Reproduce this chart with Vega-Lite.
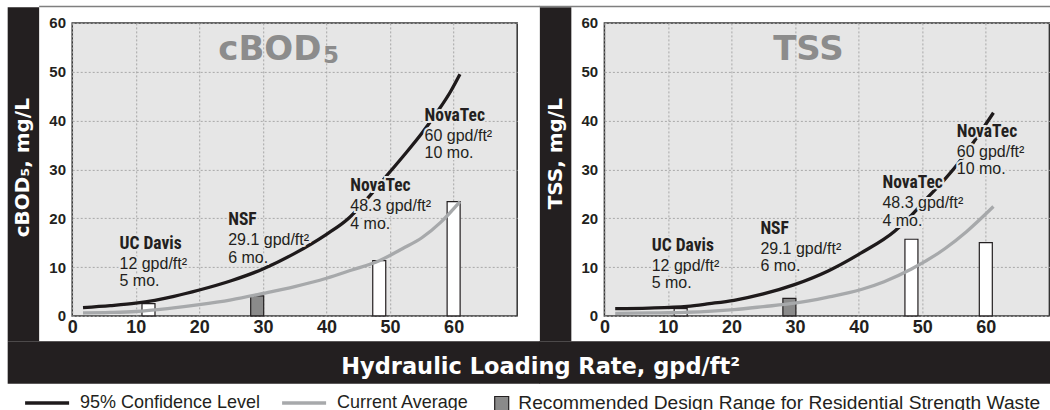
{
  "$schema": "https://vega.github.io/schema/vega-lite/v6.json",
  "background": "white",
  "padding": {"left": 6.2, "top": 4.9, "right": 0, "bottom": 0},
  "spacing": 87.2,
  "bounds": "flush",
  "datasets": {
    "curves": [
      {"panel": "cBOD", "series": "95% Confidence Level", "rate": 1.7, "value": 1.7},
      {"panel": "cBOD", "series": "95% Confidence Level", "rate": 6, "value": 2.1},
      {"panel": "cBOD", "series": "95% Confidence Level", "rate": 10, "value": 2.6},
      {"panel": "cBOD", "series": "95% Confidence Level", "rate": 13, "value": 3.2},
      {"panel": "cBOD", "series": "95% Confidence Level", "rate": 16, "value": 4.0},
      {"panel": "cBOD", "series": "95% Confidence Level", "rate": 20, "value": 5.3},
      {"panel": "cBOD", "series": "95% Confidence Level", "rate": 25, "value": 7.2},
      {"panel": "cBOD", "series": "95% Confidence Level", "rate": 30, "value": 9.6},
      {"panel": "cBOD", "series": "95% Confidence Level", "rate": 35, "value": 12.8},
      {"panel": "cBOD", "series": "95% Confidence Level", "rate": 40, "value": 16.7},
      {"panel": "cBOD", "series": "95% Confidence Level", "rate": 43.4, "value": 19.9},
      {"panel": "cBOD", "series": "95% Confidence Level", "rate": 46, "value": 23.4},
      {"panel": "cBOD", "series": "95% Confidence Level", "rate": 49.2, "value": 28.3},
      {"panel": "cBOD", "series": "95% Confidence Level", "rate": 52, "value": 32.6},
      {"panel": "cBOD", "series": "95% Confidence Level", "rate": 55, "value": 37.4},
      {"panel": "cBOD", "series": "95% Confidence Level", "rate": 57.5, "value": 41.9},
      {"panel": "cBOD", "series": "95% Confidence Level", "rate": 59.5, "value": 45.9},
      {"panel": "cBOD", "series": "95% Confidence Level", "rate": 61, "value": 49.5},
      {"panel": "cBOD", "series": "Current Average", "rate": 1.7, "value": 0.6},
      {"panel": "cBOD", "series": "Current Average", "rate": 6, "value": 0.7},
      {"panel": "cBOD", "series": "Current Average", "rate": 10, "value": 0.9},
      {"panel": "cBOD", "series": "Current Average", "rate": 15, "value": 1.5},
      {"panel": "cBOD", "series": "Current Average", "rate": 20, "value": 2.3},
      {"panel": "cBOD", "series": "Current Average", "rate": 25, "value": 3.3},
      {"panel": "cBOD", "series": "Current Average", "rate": 30, "value": 4.6},
      {"panel": "cBOD", "series": "Current Average", "rate": 35, "value": 6.0},
      {"panel": "cBOD", "series": "Current Average", "rate": 40, "value": 7.7},
      {"panel": "cBOD", "series": "Current Average", "rate": 44, "value": 9.4},
      {"panel": "cBOD", "series": "Current Average", "rate": 48.3, "value": 11.3},
      {"panel": "cBOD", "series": "Current Average", "rate": 52, "value": 13.8},
      {"panel": "cBOD", "series": "Current Average", "rate": 55, "value": 16.0},
      {"panel": "cBOD", "series": "Current Average", "rate": 58, "value": 19.2},
      {"panel": "cBOD", "series": "Current Average", "rate": 61, "value": 23.4},
      {"panel": "TSS", "series": "95% Confidence Level", "rate": 1.7, "value": 1.5},
      {"panel": "TSS", "series": "95% Confidence Level", "rate": 7, "value": 1.6},
      {"panel": "TSS", "series": "95% Confidence Level", "rate": 13, "value": 1.95},
      {"panel": "TSS", "series": "95% Confidence Level", "rate": 16.5, "value": 2.5},
      {"panel": "TSS", "series": "95% Confidence Level", "rate": 20.4, "value": 3.2},
      {"panel": "TSS", "series": "95% Confidence Level", "rate": 25, "value": 4.5},
      {"panel": "TSS", "series": "95% Confidence Level", "rate": 29.9, "value": 6.4},
      {"panel": "TSS", "series": "95% Confidence Level", "rate": 35.2, "value": 9.2},
      {"panel": "TSS", "series": "95% Confidence Level", "rate": 40.4, "value": 12.9},
      {"panel": "TSS", "series": "95% Confidence Level", "rate": 45.7, "value": 17.4},
      {"panel": "TSS", "series": "95% Confidence Level", "rate": 48, "value": 20.2},
      {"panel": "TSS", "series": "95% Confidence Level", "rate": 50.9, "value": 24.3},
      {"panel": "TSS", "series": "95% Confidence Level", "rate": 53.5, "value": 27.9},
      {"panel": "TSS", "series": "95% Confidence Level", "rate": 55.7, "value": 31.3},
      {"panel": "TSS", "series": "95% Confidence Level", "rate": 58.3, "value": 36.0},
      {"panel": "TSS", "series": "95% Confidence Level", "rate": 61.2, "value": 41.6},
      {"panel": "TSS", "series": "Current Average", "rate": 1.7, "value": 0.5},
      {"panel": "TSS", "series": "Current Average", "rate": 7, "value": 0.6},
      {"panel": "TSS", "series": "Current Average", "rate": 13, "value": 0.75},
      {"panel": "TSS", "series": "Current Average", "rate": 20.4, "value": 1.3},
      {"panel": "TSS", "series": "Current Average", "rate": 25, "value": 1.9},
      {"panel": "TSS", "series": "Current Average", "rate": 29.9, "value": 2.6},
      {"panel": "TSS", "series": "Current Average", "rate": 35, "value": 3.8},
      {"panel": "TSS", "series": "Current Average", "rate": 40.4, "value": 5.4},
      {"panel": "TSS", "series": "Current Average", "rate": 44, "value": 7.0},
      {"panel": "TSS", "series": "Current Average", "rate": 48.3, "value": 9.6},
      {"panel": "TSS", "series": "Current Average", "rate": 53.6, "value": 13.8},
      {"panel": "TSS", "series": "Current Average", "rate": 57, "value": 17.3},
      {"panel": "TSS", "series": "Current Average", "rate": 61.2, "value": 22.4}
    ],
    "bars": [
      {"panel": "cBOD", "site": "UC Davis", "rate": 12, "value": 2.5, "category": "Field Test", "detail1": "12 gpd/ft²", "detail2": "5 mo.", "label_y": 13.8},
      {"panel": "cBOD", "site": "NSF", "rate": 29.1, "value": 4.1, "category": "Recommended Design Range for Residential Strength Waste", "detail1": "29.1 gpd/ft²", "detail2": "6 mo.", "label_y": 18.6},
      {"panel": "cBOD", "site": "NovaTec", "rate": 48.3, "value": 11.3, "category": "Field Test", "detail1": "48.3 gpd/ft²", "detail2": "4 mo.", "label_y": 25.5},
      {"panel": "cBOD", "site": "NovaTec", "rate": 60, "value": 23.4, "category": "Field Test", "detail1": "60 gpd/ft²", "detail2": "10 mo.", "label_y": 40.0},
      {"panel": "TSS", "site": "UC Davis", "rate": 12, "value": 1.5, "category": "Field Test", "detail1": "12 gpd/ft²", "detail2": "5 mo.", "label_y": 13.3},
      {"panel": "TSS", "site": "NSF", "rate": 29.1, "value": 3.6, "category": "Recommended Design Range for Residential Strength Waste", "detail1": "29.1 gpd/ft²", "detail2": "6 mo.", "label_y": 16.8},
      {"panel": "TSS", "site": "NovaTec", "rate": 48.3, "value": 15.7, "category": "Field Test", "detail1": "48.3 gpd/ft²", "detail2": "4 mo.", "label_y": 26.1},
      {"panel": "TSS", "site": "NovaTec", "rate": 60, "value": 15.0, "category": "Field Test", "detail1": "60 gpd/ft²", "detail2": "10 mo.", "label_y": 36.7}
    ]
  },
  "hconcat": [
    {
      "width": 445, "height": 293,
      "view": {"fill": "#e6e6e6", "stroke": "#333333", "strokeWidth": 1.5},
      "layer": [
        {"data": {"values": [{}]}, "mark": {"type": "rect", "fill": "#231f20"},
          "encoding": {"x": {"datum": -10.15, "type": "quantitative", "title": null}, "x2": {"datum": -5.2}, "y": {"datum": -5.2, "type": "quantitative", "title": null}, "y2": {"datum": 63.2}}},
        {"data": {"values": [{}]}, "mark": {"type": "rect", "fill": "#7f7f7f"},
          "encoding": {"x": {"datum": -5.2, "type": "quantitative", "title": null}, "x2": {"datum": 73.6}, "y": {"datum": 63.2, "type": "quantitative", "title": null}, "y2": {"datum": 63.5}}},
        {"data": {"values": [{}]}, "mark": {"type": "rect", "fill": "#231f20"},
          "encoding": {"x": {"datum": -10.15, "type": "quantitative", "title": null}, "x2": {"datum": 73.6}, "y": {"datum": -13.92, "type": "quantitative", "title": null}, "y2": {"datum": -5.2}}},
        {
          "data": {"name": "bars"},
          "transform": [{"filter": "datum.panel === 'cBOD'"}],
          "mark": {"type": "bar", "size": 13, "stroke": "#231f20", "strokeWidth": 1.2},
          "encoding": {
            "x": {"field": "rate", "type": "quantitative", "title": null, "scale": {"domain": [0, 70], "nice": false, "padding": 0}, "axis": {"values": [0, 10, 20, 30, 40, 50, 60], "labelFontSize": 18, "labelPadding": 3}},
            "y": {"field": "value", "type": "quantitative", "title": null, "stack": null, "scale": {"domain": [0, 60], "nice": false, "padding": 0}, "axis": {"values": [0, 10, 20, 30, 40, 50, 60], "labelFontSize": 15, "labelPadding": 6.7}},
            "fill": {"field": "category", "type": "nominal", "scale": {"domain": ["Recommended Design Range for Residential Strength Waste", "Field Test"], "range": ["#8a8a8a", "#ffffff"]},
              "legend": {"orient": "none", "legendX": 419.9, "legendY": 371, "direction": "horizontal", "title": null, "values": ["Recommended Design Range for Residential Strength Waste"], "symbolType": "square", "symbolSize": 196, "symbolStrokeColor": "#231f20", "symbolStrokeWidth": 1.2, "labelFontSize": 19.2, "labelFont": "Liberation Sans", "labelColor": "#231f20", "labelOffset": 7, "padding": 0, "labelLimit": 800,
                "encode": {"symbols": {"update": {"stroke": {"value": "#231f20"}, "strokeWidth": {"value": 1.2}}}}}}
          }
        },
        {
          "data": {"name": "curves"},
          "transform": [{"filter": "datum.panel === 'cBOD'"}],
          "mark": {"type": "line", "interpolate": "monotone", "strokeWidth": 3.3},
          "encoding": {
            "x": {"field": "rate", "type": "quantitative", "title": null},
            "y": {"field": "value", "type": "quantitative", "title": null},
            "stroke": {"field": "series", "type": "nominal", "scale": {"domain": ["95% Confidence Level", "Current Average"], "range": ["#1e1a1b", "#a7a9ab"]},
              "legend": {"orient": "none", "legendX": -49.1, "legendY": 356, "direction": "horizontal", "title": null, "symbolType": "stroke", "symbolSize": 1936, "symbolStrokeWidth": 3.5, "labelFontSize": 18, "labelFont": "Liberation Sans", "labelColor": "#231f20", "labelOffset": 9, "columnPadding": 14, "padding": 0, "labelLimit": 800}}
          }
        },
        {"data": {"name": "bars"}, "transform": [{"filter": "datum.panel === 'cBOD'"}],
          "mark": {"type": "text", "align": "left", "baseline": "alphabetic", "dx": -29, "font": "Liberation Sans Narrow, Roboto Condensed, DejaVu Sans Condensed, Liberation Sans", "fontWeight": "bold", "fontSize": 17.5, "fill": "#e6e6e6", "stroke": "#e6e6e6", "strokeWidth": 4},
          "encoding": {"x": {"field": "rate", "type": "quantitative", "title": null}, "y": {"field": "label_y", "type": "quantitative", "title": null}, "text": {"field": "site"}}},
        {"data": {"name": "bars"}, "transform": [{"filter": "datum.panel === 'cBOD'"}],
          "mark": {"type": "text", "align": "left", "baseline": "alphabetic", "dx": -29, "dy": 20, "font": "Liberation Sans", "fontSize": 16, "fill": "#e6e6e6", "stroke": "#e6e6e6", "strokeWidth": 4},
          "encoding": {"x": {"field": "rate", "type": "quantitative", "title": null}, "y": {"field": "label_y", "type": "quantitative", "title": null}, "text": {"field": "detail1"}}},
        {"data": {"name": "bars"}, "transform": [{"filter": "datum.panel === 'cBOD'"}],
          "mark": {"type": "text", "align": "left", "baseline": "alphabetic", "dx": -29, "dy": 37.5, "font": "Liberation Sans", "fontSize": 16, "fill": "#e6e6e6", "stroke": "#e6e6e6", "strokeWidth": 4},
          "encoding": {"x": {"field": "rate", "type": "quantitative", "title": null}, "y": {"field": "label_y", "type": "quantitative", "title": null}, "text": {"field": "detail2"}}},
        {"data": {"name": "bars"}, "transform": [{"filter": "datum.panel === 'cBOD'"}],
          "mark": {"type": "text", "align": "left", "baseline": "alphabetic", "dx": -29, "font": "Liberation Sans Narrow, Roboto Condensed, DejaVu Sans Condensed, Liberation Sans", "fontWeight": "bold", "fontSize": 17.5, "fill": "#231f20"},
          "encoding": {"x": {"field": "rate", "type": "quantitative", "title": null}, "y": {"field": "label_y", "type": "quantitative", "title": null}, "text": {"field": "site"}}},
        {"data": {"name": "bars"}, "transform": [{"filter": "datum.panel === 'cBOD'"}],
          "mark": {"type": "text", "align": "left", "baseline": "alphabetic", "dx": -29, "dy": 20, "font": "Liberation Sans", "fontSize": 16, "fill": "#231f20"},
          "encoding": {"x": {"field": "rate", "type": "quantitative", "title": null}, "y": {"field": "label_y", "type": "quantitative", "title": null}, "text": {"field": "detail1"}}},
        {"data": {"name": "bars"}, "transform": [{"filter": "datum.panel === 'cBOD'"}],
          "mark": {"type": "text", "align": "left", "baseline": "alphabetic", "dx": -29, "dy": 37.5, "font": "Liberation Sans", "fontSize": 16, "fill": "#231f20"},
          "encoding": {"x": {"field": "rate", "type": "quantitative", "title": null}, "y": {"field": "label_y", "type": "quantitative", "title": null}, "text": {"field": "detail2"}}},
        {"data": {"values": [{}]},
          "mark": {"type": "text", "text": "cBOD", "font": "DejaVu Sans", "fontWeight": "bold", "fontSize": 34, "fill": "#8c8c8c", "align": "right", "baseline": "alphabetic"},
          "encoding": {"x": {"datum": 39.2, "type": "quantitative", "title": null}, "y": {"datum": 52.4, "type": "quantitative", "title": null}}},
        {"data": {"values": [{}]},
          "mark": {"type": "text", "text": "5", "font": "DejaVu Sans", "fontWeight": "bold", "fontSize": 23, "fill": "#8c8c8c", "align": "left", "baseline": "alphabetic"},
          "encoding": {"x": {"datum": 39.45, "type": "quantitative", "title": null}, "y": {"datum": 51.8, "type": "quantitative", "title": null}}},
        {"data": {"values": [{}]},
          "mark": {"type": "text", "text": "cBOD₅, mg/L", "font": "DejaVu Sans", "fontWeight": "bold", "fontSize": 20, "fill": "#ffffff", "align": "right", "baseline": "middle", "angle": 270},
          "encoding": {"x": {"datum": -7.68, "type": "quantitative", "title": null}, "y": {"datum": 44.6, "type": "quantitative", "title": null}}}
      ]
    },
    {
      "width": 445, "height": 293,
      "view": {"fill": "#e6e6e6", "stroke": "#333333", "strokeWidth": 1.5},
      "layer": [
        {"data": {"values": [{}]}, "mark": {"type": "rect", "fill": "#231f20"},
          "encoding": {"x": {"datum": -10.15, "type": "quantitative", "title": null}, "x2": {"datum": -5.2}, "y": {"datum": -5.2, "type": "quantitative", "title": null}, "y2": {"datum": 63.2}}},
        {"data": {"values": [{}]}, "mark": {"type": "rect", "fill": "#7f7f7f"},
          "encoding": {"x": {"datum": -10.2, "type": "quantitative", "title": null}, "x2": {"datum": 70.36}, "y": {"datum": 63.2, "type": "quantitative", "title": null}, "y2": {"datum": 63.5}}},
        {"data": {"values": [{}]}, "mark": {"type": "rect", "fill": "#231f20"},
          "encoding": {"x": {"datum": -10.2, "type": "quantitative", "title": null}, "x2": {"datum": 70.36}, "y": {"datum": -13.92, "type": "quantitative", "title": null}, "y2": {"datum": -5.2}}},
        {
          "data": {"name": "bars"},
          "transform": [{"filter": "datum.panel === 'TSS'"}],
          "mark": {"type": "bar", "size": 13, "stroke": "#231f20", "strokeWidth": 1.2},
          "encoding": {
            "x": {"field": "rate", "type": "quantitative", "title": null, "scale": {"domain": [0, 70], "nice": false, "padding": 0}, "axis": {"values": [0, 10, 20, 30, 40, 50, 60], "labelFontSize": 18, "labelPadding": 3}},
            "y": {"field": "value", "type": "quantitative", "title": null, "stack": null, "scale": {"domain": [0, 60], "nice": false, "padding": 0}, "axis": {"values": [0, 10, 20, 30, 40, 50, 60], "labelFontSize": 15, "labelPadding": 6.7}},
            "fill": {"field": "category", "type": "nominal", "scale": {"domain": ["Recommended Design Range for Residential Strength Waste", "Field Test"], "range": ["#8a8a8a", "#ffffff"]},
              "legend": {"orient": "none", "legendX": 419.9, "legendY": 371, "direction": "horizontal", "title": null, "values": ["Recommended Design Range for Residential Strength Waste"], "symbolType": "square", "symbolSize": 196, "symbolStrokeColor": "#231f20", "symbolStrokeWidth": 1.2, "labelFontSize": 19.2, "labelFont": "Liberation Sans", "labelColor": "#231f20", "labelOffset": 7, "padding": 0, "labelLimit": 800,
                "encode": {"symbols": {"update": {"stroke": {"value": "#231f20"}, "strokeWidth": {"value": 1.2}}}}}}
          }
        },
        {
          "data": {"name": "curves"},
          "transform": [{"filter": "datum.panel === 'TSS'"}],
          "mark": {"type": "line", "interpolate": "monotone", "strokeWidth": 3.3},
          "encoding": {
            "x": {"field": "rate", "type": "quantitative", "title": null},
            "y": {"field": "value", "type": "quantitative", "title": null},
            "stroke": {"field": "series", "type": "nominal", "scale": {"domain": ["95% Confidence Level", "Current Average"], "range": ["#1e1a1b", "#a7a9ab"]},
              "legend": {"orient": "none", "legendX": -49.1, "legendY": 356, "direction": "horizontal", "title": null, "symbolType": "stroke", "symbolSize": 1936, "symbolStrokeWidth": 3.5, "labelFontSize": 18, "labelFont": "Liberation Sans", "labelColor": "#231f20", "labelOffset": 9, "columnPadding": 14, "padding": 0, "labelLimit": 800}}
          }
        },
        {"data": {"name": "bars"}, "transform": [{"filter": "datum.panel === 'TSS'"}],
          "mark": {"type": "text", "align": "left", "baseline": "alphabetic", "dx": -29, "font": "Liberation Sans Narrow, Roboto Condensed, DejaVu Sans Condensed, Liberation Sans", "fontWeight": "bold", "fontSize": 17.5, "fill": "#e6e6e6", "stroke": "#e6e6e6", "strokeWidth": 4},
          "encoding": {"x": {"field": "rate", "type": "quantitative", "title": null}, "y": {"field": "label_y", "type": "quantitative", "title": null}, "text": {"field": "site"}}},
        {"data": {"name": "bars"}, "transform": [{"filter": "datum.panel === 'TSS'"}],
          "mark": {"type": "text", "align": "left", "baseline": "alphabetic", "dx": -29, "dy": 20, "font": "Liberation Sans", "fontSize": 16, "fill": "#e6e6e6", "stroke": "#e6e6e6", "strokeWidth": 4},
          "encoding": {"x": {"field": "rate", "type": "quantitative", "title": null}, "y": {"field": "label_y", "type": "quantitative", "title": null}, "text": {"field": "detail1"}}},
        {"data": {"name": "bars"}, "transform": [{"filter": "datum.panel === 'TSS'"}],
          "mark": {"type": "text", "align": "left", "baseline": "alphabetic", "dx": -29, "dy": 37.5, "font": "Liberation Sans", "fontSize": 16, "fill": "#e6e6e6", "stroke": "#e6e6e6", "strokeWidth": 4},
          "encoding": {"x": {"field": "rate", "type": "quantitative", "title": null}, "y": {"field": "label_y", "type": "quantitative", "title": null}, "text": {"field": "detail2"}}},
        {"data": {"name": "bars"}, "transform": [{"filter": "datum.panel === 'TSS'"}],
          "mark": {"type": "text", "align": "left", "baseline": "alphabetic", "dx": -29, "font": "Liberation Sans Narrow, Roboto Condensed, DejaVu Sans Condensed, Liberation Sans", "fontWeight": "bold", "fontSize": 17.5, "fill": "#231f20"},
          "encoding": {"x": {"field": "rate", "type": "quantitative", "title": null}, "y": {"field": "label_y", "type": "quantitative", "title": null}, "text": {"field": "site"}}},
        {"data": {"name": "bars"}, "transform": [{"filter": "datum.panel === 'TSS'"}],
          "mark": {"type": "text", "align": "left", "baseline": "alphabetic", "dx": -29, "dy": 20, "font": "Liberation Sans", "fontSize": 16, "fill": "#231f20"},
          "encoding": {"x": {"field": "rate", "type": "quantitative", "title": null}, "y": {"field": "label_y", "type": "quantitative", "title": null}, "text": {"field": "detail1"}}},
        {"data": {"name": "bars"}, "transform": [{"filter": "datum.panel === 'TSS'"}],
          "mark": {"type": "text", "align": "left", "baseline": "alphabetic", "dx": -29, "dy": 37.5, "font": "Liberation Sans", "fontSize": 16, "fill": "#231f20"},
          "encoding": {"x": {"field": "rate", "type": "quantitative", "title": null}, "y": {"field": "label_y", "type": "quantitative", "title": null}, "text": {"field": "detail2"}}},
        {"data": {"values": [{}]},
          "mark": {"type": "text", "text": "TSS", "font": "DejaVu Sans", "fontWeight": "bold", "fontSize": 34, "fill": "#8c8c8c", "align": "center", "baseline": "alphabetic"},
          "encoding": {"x": {"datum": 32.1, "type": "quantitative", "title": null}, "y": {"datum": 52.4, "type": "quantitative", "title": null}}},
        {"data": {"values": [{}]},
          "mark": {"type": "text", "text": "TSS, mg/L", "font": "DejaVu Sans", "fontWeight": "bold", "fontSize": 20, "fill": "#ffffff", "align": "right", "baseline": "middle", "angle": 270},
          "encoding": {"x": {"datum": -7.68, "type": "quantitative", "title": null}, "y": {"datum": 44.6, "type": "quantitative", "title": null}}},
        {"data": {"values": [{}]},
          "mark": {"type": "text", "text": "Hydraulic Loading Rate, gpd/ft²", "font": "DejaVu Sans", "fontWeight": "bold", "fontSize": 22.5, "fill": "#ffffff", "align": "center", "baseline": "alphabetic"},
          "encoding": {"x": {"datum": -10.02, "type": "quantitative", "title": null}, "y": {"datum": -11.88, "type": "quantitative", "title": null}}}
      ]
    }
  ],
  "config": {
    "scale": {"continuousPadding": 0},
    "axis": {"grid": true, "gridColor": "#a8a8a8", "gridDash": [2, 2], "gridWidth": 1, "domain": false, "ticks": false, "labelFont": "Liberation Sans", "labelFontWeight": "bold", "labelColor": "#231f20", "labelFlush": false, "labelOverlap": false}
  }
}
